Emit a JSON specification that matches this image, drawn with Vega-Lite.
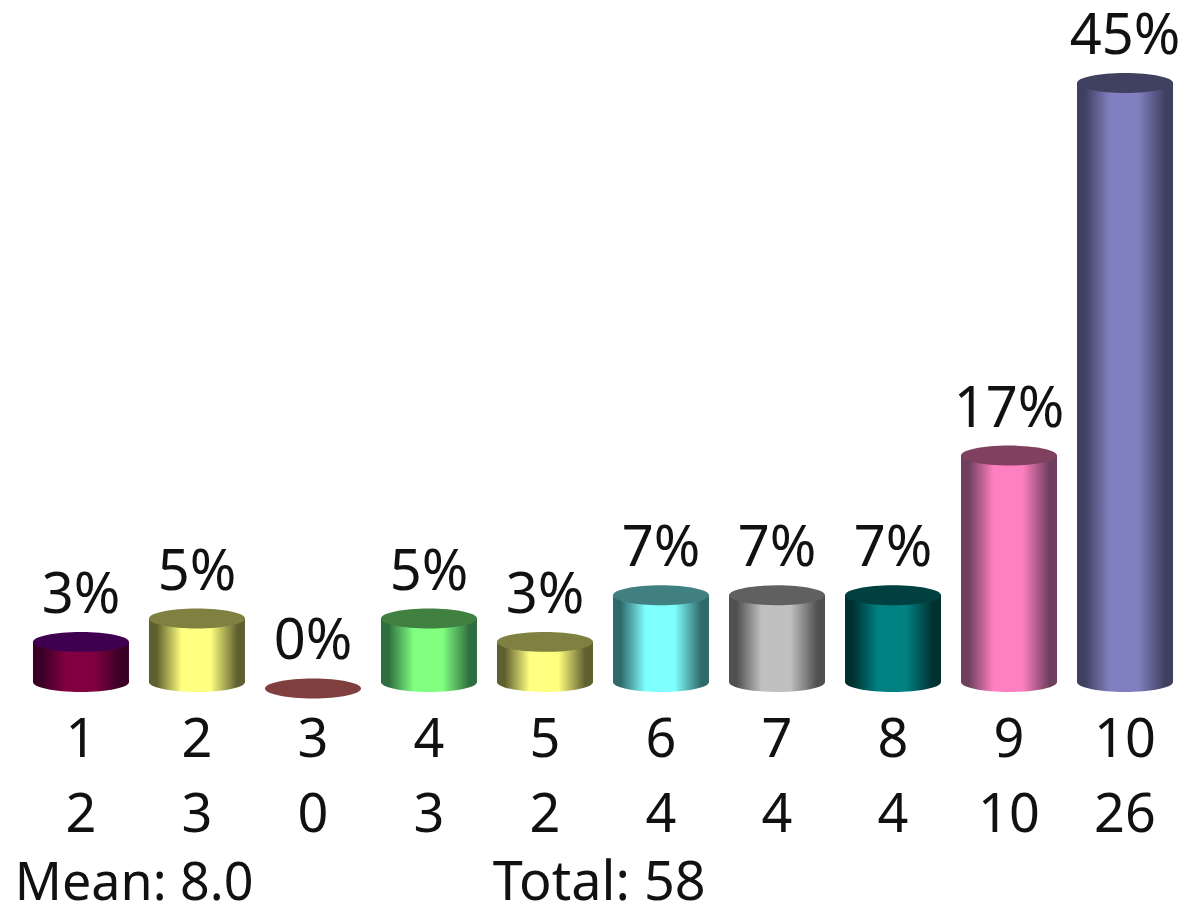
{"$schema":"https://vega.github.io/schema/vega-lite/v6.json","width":1188,"height":906,"padding":0,"autosize":"none","background":"#ffffff","config":{"view":{"stroke":null}},
"datasets":{"bars":[
{"cat":1,"count":2,"pct":"3%","base":0.28},{"cat":2,"count":3,"pct":"5%","base":0.28},{"cat":3,"count":0,"pct":"0%","base":0.28},{"cat":4,"count":3,"pct":"5%","base":0.28},{"cat":5,"count":2,"pct":"3%","base":0.28},{"cat":6,"count":4,"pct":"7%","base":0.28},{"cat":7,"count":4,"pct":"7%","base":0.28},{"cat":8,"count":4,"pct":"7%","base":0.28},{"cat":9,"count":10,"pct":"17%","base":0.28},{"cat":10,"count":26,"pct":"45%","base":0.28}],
"notes":[{"label":"Mean: 8.0","cat":0.43,"row":-9.08,"kind":"mean"},{"label":"Total: 58","cat":4.55,"row":-9.08,"kind":"total"}]},
"data":{"name":"bars"},
"encoding":{"x":{"field":"cat","type":"quantitative","scale":{"domain":[0.302,10.543],"nice":false,"zero":false,"padding":0},"axis":null},"y":{"field":"count","type":"quantitative","scale":{"domain":[-9.34,29.56],"nice":false,"zero":false},"axis":null}},
"layer":[
{"transform":[{"filter":"datum.cat==1"}],"layer":[
{"mark":{"type":"point","filled":true,"opacity":1,"strokeWidth":0,"size":9216,"shape":"M-1,0A1,0.208,0,1,1,1,0A1,0.208,0,1,1,-1,0Z","fill":{"gradient":"linear","x1":0,"x2":1,"y1":0,"y2":0,"stops":[{"offset":0,"color":"#380025"},{"offset":0.08,"color":"#380025"},{"offset":0.34,"color":"#800040"},{"offset":0.64,"color":"#800040"},{"offset":0.92,"color":"#380025"},{"offset":1,"color":"#380025"}]}},"encoding":{"y":{"field":"base","type":"quantitative"}}},
{"mark":{"type":"bar","width":96,"fill":{"gradient":"linear","x1":0,"x2":1,"y1":0,"y2":0,"stops":[{"offset":0,"color":"#380025"},{"offset":0.08,"color":"#380025"},{"offset":0.34,"color":"#800040"},{"offset":0.64,"color":"#800040"},{"offset":0.92,"color":"#380025"},{"offset":1,"color":"#380025"}]}},"encoding":{"y2":{"field":"base"}}}]},
{"transform":[{"filter":"datum.cat==2||datum.cat==5"}],"layer":[
{"mark":{"type":"point","filled":true,"opacity":1,"strokeWidth":0,"size":9216,"shape":"M-1,0A1,0.208,0,1,1,1,0A1,0.208,0,1,1,-1,0Z","fill":{"gradient":"linear","x1":0,"x2":1,"y1":0,"y2":0,"stops":[{"offset":0,"color":"#5f5f30"},{"offset":0.08,"color":"#5f5f30"},{"offset":0.34,"color":"#ffff80"},{"offset":0.64,"color":"#ffff80"},{"offset":0.92,"color":"#5f5f30"},{"offset":1,"color":"#5f5f30"}]}},"encoding":{"y":{"field":"base","type":"quantitative"}}},
{"mark":{"type":"bar","width":96,"fill":{"gradient":"linear","x1":0,"x2":1,"y1":0,"y2":0,"stops":[{"offset":0,"color":"#5f5f30"},{"offset":0.08,"color":"#5f5f30"},{"offset":0.34,"color":"#ffff80"},{"offset":0.64,"color":"#ffff80"},{"offset":0.92,"color":"#5f5f30"},{"offset":1,"color":"#5f5f30"}]}},"encoding":{"y2":{"field":"base"}}}]},
{"transform":[{"filter":"datum.cat==4"}],"layer":[
{"mark":{"type":"point","filled":true,"opacity":1,"strokeWidth":0,"size":9216,"shape":"M-1,0A1,0.208,0,1,1,1,0A1,0.208,0,1,1,-1,0Z","fill":{"gradient":"linear","x1":0,"x2":1,"y1":0,"y2":0,"stops":[{"offset":0,"color":"#2f6f3f"},{"offset":0.08,"color":"#2f6f3f"},{"offset":0.34,"color":"#80ff80"},{"offset":0.64,"color":"#80ff80"},{"offset":0.92,"color":"#2f6f3f"},{"offset":1,"color":"#2f6f3f"}]}},"encoding":{"y":{"field":"base","type":"quantitative"}}},
{"mark":{"type":"bar","width":96,"fill":{"gradient":"linear","x1":0,"x2":1,"y1":0,"y2":0,"stops":[{"offset":0,"color":"#2f6f3f"},{"offset":0.08,"color":"#2f6f3f"},{"offset":0.34,"color":"#80ff80"},{"offset":0.64,"color":"#80ff80"},{"offset":0.92,"color":"#2f6f3f"},{"offset":1,"color":"#2f6f3f"}]}},"encoding":{"y2":{"field":"base"}}}]},
{"transform":[{"filter":"datum.cat==6"}],"layer":[
{"mark":{"type":"point","filled":true,"opacity":1,"strokeWidth":0,"size":9216,"shape":"M-1,0A1,0.208,0,1,1,1,0A1,0.208,0,1,1,-1,0Z","fill":{"gradient":"linear","x1":0,"x2":1,"y1":0,"y2":0,"stops":[{"offset":0,"color":"#2f6a6a"},{"offset":0.08,"color":"#2f6a6a"},{"offset":0.34,"color":"#80ffff"},{"offset":0.64,"color":"#80ffff"},{"offset":0.92,"color":"#2f6a6a"},{"offset":1,"color":"#2f6a6a"}]}},"encoding":{"y":{"field":"base","type":"quantitative"}}},
{"mark":{"type":"bar","width":96,"fill":{"gradient":"linear","x1":0,"x2":1,"y1":0,"y2":0,"stops":[{"offset":0,"color":"#2f6a6a"},{"offset":0.08,"color":"#2f6a6a"},{"offset":0.34,"color":"#80ffff"},{"offset":0.64,"color":"#80ffff"},{"offset":0.92,"color":"#2f6a6a"},{"offset":1,"color":"#2f6a6a"}]}},"encoding":{"y2":{"field":"base"}}}]},
{"transform":[{"filter":"datum.cat==7"}],"layer":[
{"mark":{"type":"point","filled":true,"opacity":1,"strokeWidth":0,"size":9216,"shape":"M-1,0A1,0.208,0,1,1,1,0A1,0.208,0,1,1,-1,0Z","fill":{"gradient":"linear","x1":0,"x2":1,"y1":0,"y2":0,"stops":[{"offset":0,"color":"#505050"},{"offset":0.08,"color":"#505050"},{"offset":0.34,"color":"#c0c0c0"},{"offset":0.64,"color":"#c0c0c0"},{"offset":0.92,"color":"#505050"},{"offset":1,"color":"#505050"}]}},"encoding":{"y":{"field":"base","type":"quantitative"}}},
{"mark":{"type":"bar","width":96,"fill":{"gradient":"linear","x1":0,"x2":1,"y1":0,"y2":0,"stops":[{"offset":0,"color":"#505050"},{"offset":0.08,"color":"#505050"},{"offset":0.34,"color":"#c0c0c0"},{"offset":0.64,"color":"#c0c0c0"},{"offset":0.92,"color":"#505050"},{"offset":1,"color":"#505050"}]}},"encoding":{"y2":{"field":"base"}}}]},
{"transform":[{"filter":"datum.cat==8"}],"layer":[
{"mark":{"type":"point","filled":true,"opacity":1,"strokeWidth":0,"size":9216,"shape":"M-1,0A1,0.208,0,1,1,1,0A1,0.208,0,1,1,-1,0Z","fill":{"gradient":"linear","x1":0,"x2":1,"y1":0,"y2":0,"stops":[{"offset":0,"color":"#003030"},{"offset":0.08,"color":"#003030"},{"offset":0.34,"color":"#008080"},{"offset":0.64,"color":"#008080"},{"offset":0.92,"color":"#003030"},{"offset":1,"color":"#003030"}]}},"encoding":{"y":{"field":"base","type":"quantitative"}}},
{"mark":{"type":"bar","width":96,"fill":{"gradient":"linear","x1":0,"x2":1,"y1":0,"y2":0,"stops":[{"offset":0,"color":"#003030"},{"offset":0.08,"color":"#003030"},{"offset":0.34,"color":"#008080"},{"offset":0.64,"color":"#008080"},{"offset":0.92,"color":"#003030"},{"offset":1,"color":"#003030"}]}},"encoding":{"y2":{"field":"base"}}}]},
{"transform":[{"filter":"datum.cat==9"}],"layer":[
{"mark":{"type":"point","filled":true,"opacity":1,"strokeWidth":0,"size":9216,"shape":"M-1,0A1,0.208,0,1,1,1,0A1,0.208,0,1,1,-1,0Z","fill":{"gradient":"linear","x1":0,"x2":1,"y1":0,"y2":0,"stops":[{"offset":0,"color":"#6f3f5f"},{"offset":0.08,"color":"#6f3f5f"},{"offset":0.34,"color":"#ff80c0"},{"offset":0.64,"color":"#ff80c0"},{"offset":0.92,"color":"#6f3f5f"},{"offset":1,"color":"#6f3f5f"}]}},"encoding":{"y":{"field":"base","type":"quantitative"}}},
{"mark":{"type":"bar","width":96,"fill":{"gradient":"linear","x1":0,"x2":1,"y1":0,"y2":0,"stops":[{"offset":0,"color":"#6f3f5f"},{"offset":0.08,"color":"#6f3f5f"},{"offset":0.34,"color":"#ff80c0"},{"offset":0.64,"color":"#ff80c0"},{"offset":0.92,"color":"#6f3f5f"},{"offset":1,"color":"#6f3f5f"}]}},"encoding":{"y2":{"field":"base"}}}]},
{"transform":[{"filter":"datum.cat==10"}],"layer":[
{"mark":{"type":"point","filled":true,"opacity":1,"strokeWidth":0,"size":9216,"shape":"M-1,0A1,0.208,0,1,1,1,0A1,0.208,0,1,1,-1,0Z","fill":{"gradient":"linear","x1":0,"x2":1,"y1":0,"y2":0,"stops":[{"offset":0,"color":"#3f3f60"},{"offset":0.08,"color":"#3f3f60"},{"offset":0.34,"color":"#8080c0"},{"offset":0.64,"color":"#8080c0"},{"offset":0.92,"color":"#3f3f60"},{"offset":1,"color":"#3f3f60"}]}},"encoding":{"y":{"field":"base","type":"quantitative"}}},
{"mark":{"type":"bar","width":96,"fill":{"gradient":"linear","x1":0,"x2":1,"y1":0,"y2":0,"stops":[{"offset":0,"color":"#3f3f60"},{"offset":0.08,"color":"#3f3f60"},{"offset":0.34,"color":"#8080c0"},{"offset":0.64,"color":"#8080c0"},{"offset":0.92,"color":"#3f3f60"},{"offset":1,"color":"#3f3f60"}]}},"encoding":{"y2":{"field":"base"}}}]},
{"mark":{"type":"point","filled":true,"opacity":1,"strokeWidth":0,"size":9216,"shape":"M-1,0A1,0.208,0,1,1,1,0A1,0.208,0,1,1,-1,0Z"},
"encoding":{"color":{"field":"cat","type":"nominal","legend":null,"scale":{"domain":[1,2,3,4,5,6,7,8,9,10],"range":["#400050","#808040","#803f3f","#408040","#808040","#408080","#606060","#004040","#804060","#404060"]}}}},
{"mark":{"type":"text","font":"Noto Sans","fontSize":56,"dy":-29,"baseline":"alphabetic","align":"center","color":"#111111"},"encoding":{"text":{"field":"pct"}}},
{"mark":{"type":"text","font":"Noto Sans","fontSize":54,"baseline":"alphabetic","align":"center","color":"#111111"},"encoding":{"y":{"datum":-2.94,"type":"quantitative"},"text":{"field":"cat"}}},
{"mark":{"type":"text","font":"Noto Sans","fontSize":54,"baseline":"alphabetic","align":"center","color":"#111111"},"encoding":{"y":{"datum":-6.16,"type":"quantitative"},"text":{"field":"count"}}},
{"data":{"name":"notes"},"transform":[{"filter":"datum.kind=='mean'"}],"mark":{"type":"text","font":"Noto Sans","fontSize":52,"baseline":"alphabetic","align":"left","color":"#111111"},"encoding":{"y":{"field":"row","type":"quantitative"},"text":{"field":"label"}}},
{"data":{"name":"notes"},"transform":[{"filter":"datum.kind=='total'"}],"mark":{"type":"text","font":"Noto Sans","fontSize":54,"baseline":"alphabetic","align":"left","color":"#111111"},"encoding":{"y":{"field":"row","type":"quantitative"},"text":{"field":"label"}}}
]}
